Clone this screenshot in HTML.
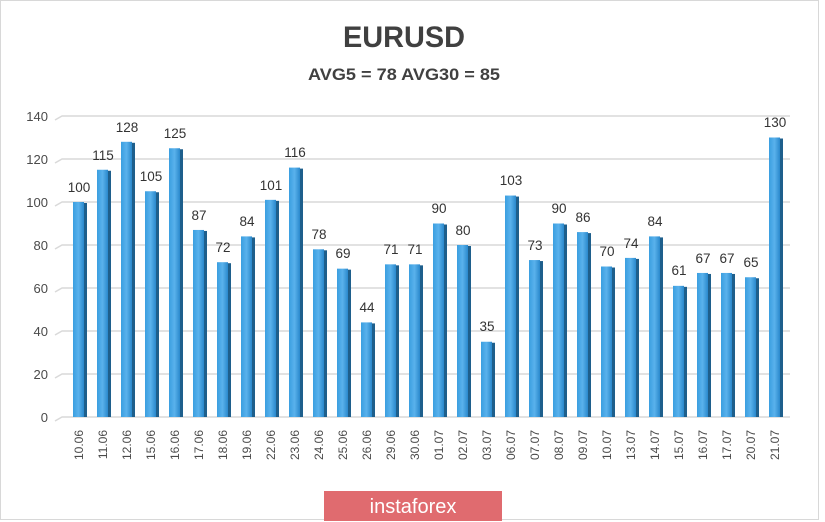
<!DOCTYPE html>
<html><head><meta charset="utf-8"><style>
html,body{margin:0;padding:0;background:#fff}
svg{display:block}
text{font-family:"Liberation Sans",sans-serif}
</style></head><body>
<svg width="825" height="522" viewBox="0 0 825 522" xmlns="http://www.w3.org/2000/svg">
<defs>
<linearGradient id="g" x1="0" x2="1" y1="0" y2="0">
<stop offset="0" stop-color="#3a9ee0"/><stop offset="0.5" stop-color="#5ab2ec"/><stop offset="1" stop-color="#2a88cc"/>
</linearGradient>
</defs>
<rect x="0.5" y="0.5" width="818" height="519" fill="#fff" stroke="#d8d8d8"/>
<text x="404" y="47" text-anchor="middle" font-size="30" font-weight="bold" fill="#404040" textLength="122" lengthAdjust="spacingAndGlyphs">EURUSD</text>
<text x="404" y="80" text-anchor="middle" font-size="17" font-weight="bold" fill="#404040" textLength="192" lengthAdjust="spacingAndGlyphs">AVG5 = 78 AVG30 = 85</text>
<g stroke="#d9d9d9" stroke-width="1.5" fill="none">
<path d="M55 421L62 417H790"/><path d="M55 378L62 374H790"/><path d="M55 335L62 331H790"/><path d="M55 292L62 288H790"/><path d="M55 249L62 245H790"/><path d="M55 206L62 202H790"/><path d="M55 163L62 159H790"/><path d="M55 120L62 116H790"/>
</g>
<g font-size="13" fill="#4a4a4a" text-anchor="end">
<text x="48" y="422">0</text><text x="48" y="379">20</text><text x="48" y="336">40</text><text x="48" y="293">60</text><text x="48" y="250">80</text><text x="48" y="207">100</text><text x="48" y="164">120</text><text x="48" y="121">140</text>
</g>
<g>
<rect x="73" y="202" width="11" height="215" fill="url(#g)"/>
<rect x="97" y="169.75" width="11" height="247.25" fill="url(#g)"/>
<rect x="121" y="141.8" width="11" height="275.2" fill="url(#g)"/>
<rect x="145" y="191.25" width="11" height="225.75" fill="url(#g)"/>
<rect x="169" y="148.25" width="11" height="268.75" fill="url(#g)"/>
<rect x="193" y="229.95" width="11" height="187.05" fill="url(#g)"/>
<rect x="217" y="262.2" width="11" height="154.8" fill="url(#g)"/>
<rect x="241" y="236.4" width="11" height="180.6" fill="url(#g)"/>
<rect x="265" y="199.85" width="11" height="217.15" fill="url(#g)"/>
<rect x="289" y="167.6" width="11" height="249.4" fill="url(#g)"/>
<rect x="313" y="249.3" width="11" height="167.7" fill="url(#g)"/>
<rect x="337" y="268.65" width="11" height="148.35" fill="url(#g)"/>
<rect x="361" y="322.4" width="11" height="94.6" fill="url(#g)"/>
<rect x="385" y="264.35" width="11" height="152.65" fill="url(#g)"/>
<rect x="409" y="264.35" width="11" height="152.65" fill="url(#g)"/>
<rect x="433" y="223.5" width="11" height="193.5" fill="url(#g)"/>
<rect x="457" y="245" width="11" height="172" fill="url(#g)"/>
<rect x="481" y="341.75" width="11" height="75.25" fill="url(#g)"/>
<rect x="505" y="195.55" width="11" height="221.45" fill="url(#g)"/>
<rect x="529" y="260.05" width="11" height="156.95" fill="url(#g)"/>
<rect x="553" y="223.5" width="11" height="193.5" fill="url(#g)"/>
<rect x="577" y="232.1" width="11" height="184.9" fill="url(#g)"/>
<rect x="601" y="266.5" width="11" height="150.5" fill="url(#g)"/>
<rect x="625" y="257.9" width="11" height="159.1" fill="url(#g)"/>
<rect x="649" y="236.4" width="11" height="180.6" fill="url(#g)"/>
<rect x="673" y="285.85" width="11" height="131.15" fill="url(#g)"/>
<rect x="697" y="272.95" width="11" height="144.05" fill="url(#g)"/>
<rect x="721" y="272.95" width="11" height="144.05" fill="url(#g)"/>
<rect x="745" y="277.25" width="11" height="139.75" fill="url(#g)"/>
<rect x="769" y="137.5" width="11" height="279.5" fill="url(#g)"/>
</g>
<g fill="#1e5f8c">
<rect x="84" y="203" width="3" height="214"/><rect x="108" y="170.75" width="3" height="246.25"/><rect x="132" y="142.8" width="3" height="274.2"/><rect x="156" y="192.25" width="3" height="224.75"/><rect x="180" y="149.25" width="3" height="267.75"/><rect x="204" y="230.95" width="3" height="186.05"/><rect x="228" y="263.2" width="3" height="153.8"/><rect x="252" y="237.4" width="3" height="179.6"/><rect x="276" y="200.85" width="3" height="216.15"/><rect x="300" y="168.6" width="3" height="248.4"/><rect x="324" y="250.3" width="3" height="166.7"/><rect x="348" y="269.65" width="3" height="147.35"/><rect x="372" y="323.4" width="3" height="93.6"/><rect x="396" y="265.35" width="3" height="151.65"/><rect x="420" y="265.35" width="3" height="151.65"/><rect x="444" y="224.5" width="3" height="192.5"/><rect x="468" y="246" width="3" height="171"/><rect x="492" y="342.75" width="3" height="74.25"/><rect x="516" y="196.55" width="3" height="220.45"/><rect x="540" y="261.05" width="3" height="155.95"/><rect x="564" y="224.5" width="3" height="192.5"/><rect x="588" y="233.1" width="3" height="183.9"/><rect x="612" y="267.5" width="3" height="149.5"/><rect x="636" y="258.9" width="3" height="158.1"/><rect x="660" y="237.4" width="3" height="179.6"/><rect x="684" y="286.85" width="3" height="130.15"/><rect x="708" y="273.95" width="3" height="143.05"/><rect x="732" y="273.95" width="3" height="143.05"/><rect x="756" y="278.25" width="3" height="138.75"/><rect x="780" y="138.5" width="3" height="278.5"/>
</g>
<g font-size="13.5" fill="#333" text-anchor="middle">
<text x="79" y="192">100</text><text x="103" y="160">115</text><text x="127" y="132">128</text><text x="151" y="181">105</text><text x="175" y="138">125</text><text x="199" y="220">87</text><text x="223" y="252">72</text><text x="247" y="226">84</text><text x="271" y="190">101</text><text x="295" y="157">116</text><text x="319" y="239">78</text><text x="343" y="258">69</text><text x="367" y="312">44</text><text x="391" y="254">71</text><text x="415" y="254">71</text><text x="439" y="213">90</text><text x="463" y="235">80</text><text x="487" y="331">35</text><text x="511" y="185">103</text><text x="535" y="250">73</text><text x="559" y="213">90</text><text x="583" y="222">86</text><text x="607" y="256">70</text><text x="631" y="248">74</text><text x="655" y="226">84</text><text x="679" y="275">61</text><text x="703" y="263">67</text><text x="727" y="263">67</text><text x="751" y="267">65</text><text x="775" y="127">130</text>
</g>
<g font-size="12" fill="#4a4a4a" text-anchor="end">
<text transform="translate(83,430) rotate(-90)">10.06</text><text transform="translate(107,430) rotate(-90)">11.06</text><text transform="translate(131,430) rotate(-90)">12.06</text><text transform="translate(155,430) rotate(-90)">15.06</text><text transform="translate(179,430) rotate(-90)">16.06</text><text transform="translate(203,430) rotate(-90)">17.06</text><text transform="translate(227,430) rotate(-90)">18.06</text><text transform="translate(251,430) rotate(-90)">19.06</text><text transform="translate(275,430) rotate(-90)">22.06</text><text transform="translate(299,430) rotate(-90)">23.06</text><text transform="translate(323,430) rotate(-90)">24.06</text><text transform="translate(347,430) rotate(-90)">25.06</text><text transform="translate(371,430) rotate(-90)">26.06</text><text transform="translate(395,430) rotate(-90)">29.06</text><text transform="translate(419,430) rotate(-90)">30.06</text><text transform="translate(443,430) rotate(-90)">01.07</text><text transform="translate(467,430) rotate(-90)">02.07</text><text transform="translate(491,430) rotate(-90)">03.07</text><text transform="translate(515,430) rotate(-90)">06.07</text><text transform="translate(539,430) rotate(-90)">07.07</text><text transform="translate(563,430) rotate(-90)">08.07</text><text transform="translate(587,430) rotate(-90)">09.07</text><text transform="translate(611,430) rotate(-90)">10.07</text><text transform="translate(635,430) rotate(-90)">13.07</text><text transform="translate(659,430) rotate(-90)">14.07</text><text transform="translate(683,430) rotate(-90)">15.07</text><text transform="translate(707,430) rotate(-90)">16.07</text><text transform="translate(731,430) rotate(-90)">17.07</text><text transform="translate(755,430) rotate(-90)">20.07</text><text transform="translate(779,430) rotate(-90)">21.07</text>
</g>
<rect x="324" y="491" width="178" height="30" fill="#e06b6f"/>
<text x="413" y="513" text-anchor="middle" font-size="20" fill="#fff">instaforex</text>
</svg>
</body></html>
